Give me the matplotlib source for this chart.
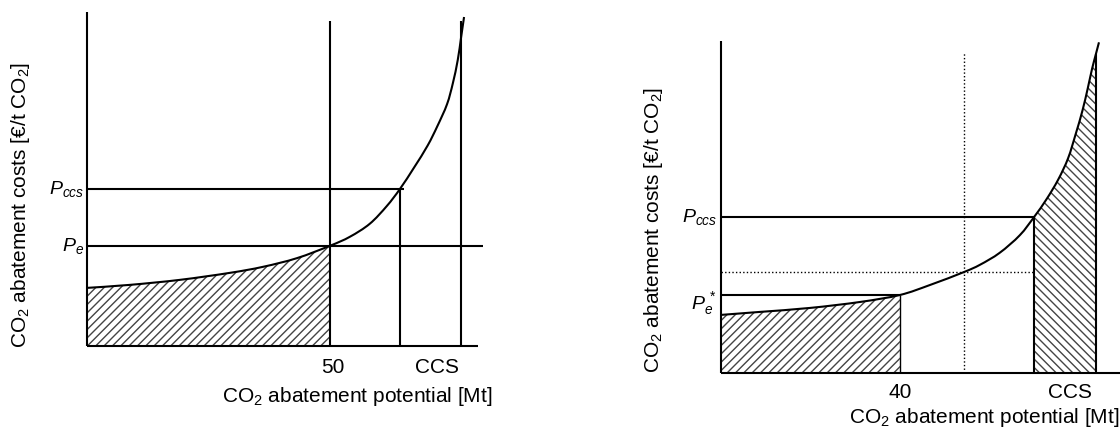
import matplotlib
matplotlib.use("Agg")
import matplotlib.pyplot as plt
from matplotlib.path import Path
from matplotlib.patches import PathPatch

# ----- data -----
left_x = [0, 8.8, 19.1, 29.4, 36.2, 43.2, 50, 54.1, 58.2, 61.7, 64.4, 67.3,
          70.1, 72.1, 74.1, 75.3, 76.3, 77.0, 77.6]
left_y = [17.4, 18.3, 19.8, 21.9, 23.7, 26.3, 30.0, 32.7, 36.6, 41.9, 47.0,
          53.4, 60.0, 65.8, 72.4, 78.7, 85.6, 92.5, 98.5]
left_q = 50        # equilibrium quantity
left_q_ccs = 64.4  # quantity at P_ccs
left_ccs = 77.0    # CCS potential
left_pe = 30.0
left_pccs = 47.0

right_x = [0, 8.7, 19.9, 31.1, 40.0, 46.7, 54.3, 57.9, 62.3, 66.8, 70.0,
           72.8, 75.4, 77.6, 79.3, 80.8, 82.0, 82.95, 83.8, 84.5]
right_y = [17.5, 18.4, 19.6, 21.4, 23.5, 26.5, 30.4, 32.6, 36.2, 41.5, 47.0,
           52.4, 58.3, 64.7, 72.0, 79.0, 85.8, 91.6, 96.0, 99.6]
right_q = 40
right_q_dot = 54.3
right_q_ccs = 70.0
right_ccs = 83.8
right_pe = 23.5
right_p_dot = 30.4
right_pccs = 47.0

plt.rcParams.update({
    "font.family": ["Liberation Sans", "DejaVu Sans"],
    "mathtext.fontset": "custom",
    "mathtext.rm": "Liberation Sans",
    "mathtext.it": "Liberation Sans:italic",
    "hatch.linewidth": 1.0,
})

FS = 15
LW = 1.5
HATCH_C = "#444444"
dotted = (0, (1, 1.6))

fig = plt.figure(figsize=(11.2, 4.33), dpi=100)
axL = fig.add_axes([87/1120, 87/433, 396/1120, 334/433])
axR = fig.add_axes([721/1120, 60/433, 399/1120, 332/433])
axL.set_xlim(0, 81.5)
axR.set_xlim(0, 89.2)
for ax in (axL, axR):
    ax.set_ylim(0, 100)
    ax.axis("off")


def line(ax, xs, ys, **kw):
    kw.setdefault("color", "black")
    kw.setdefault("lw", LW)
    ax.plot(xs, ys, clip_on=False, solid_capstyle="butt", **kw)


def bez(xs, ys, i0, i1):
    # smooth (catmull-rom) bezier pieces through the read points i0..i1
    n = len(xs)
    P = list(zip(xs, ys))
    verts = []
    for i in range(i0, i1):
        p0 = P[max(i - 1, 0)]
        p1, p2 = P[i], P[i + 1]
        p3 = P[min(i + 2, n - 1)]
        c1 = (p1[0] + (p2[0] - p0[0]) / 6, p1[1] + (p2[1] - p0[1]) / 6)
        c2 = (p2[0] - (p3[0] - p1[0]) / 6, p2[1] - (p3[1] - p1[1]) / 6)
        verts += [c1, c2, p2]
    return verts


def curve(ax, xs, ys):
    v = [(xs[0], ys[0])] + bez(xs, ys, 0, len(xs) - 1)
    codes = [Path.MOVETO] + [Path.CURVE4] * (len(v) - 1)
    ax.add_patch(PathPatch(Path(v, codes), fill=False, ec="black", lw=LW,
                           clip_on=False))


def hatched(ax, xs, ys, xa, xb, pattern):
    i0, i1 = xs.index(xa), xs.index(xb)
    v = [(xs[i0], ys[i0])] + bez(xs, ys, i0, i1)
    codes = [Path.MOVETO] + [Path.CURVE4] * (len(v) - 1)
    v += [(xs[i1], 0), (xs[i0], 0), (xs[i0], ys[i0])]
    codes += [Path.LINETO, Path.LINETO, Path.CLOSEPOLY]
    ax.add_patch(PathPatch(Path(v, codes), fc="white", ec=HATCH_C, lw=0,
                           hatch=pattern))


# ----- left panel -----
hatched(axL, left_x, left_y, 0, left_q, "////")
line(axL, [0, 0], [0, 100])
line(axL, [0, 80.5], [0, 0])
curve(axL, left_x, left_y)
line(axL, [left_q, left_q], [0, 97.3])
line(axL, [0, left_q_ccs + 0.8], [left_pccs, left_pccs])
line(axL, [left_q_ccs, left_q_ccs], [0, left_pccs])
line(axL, [0, 81.5], [left_pe, left_pe])
line(axL, [left_ccs, left_ccs], [0, 97.3])

axL.text(-0.6, left_pccs, r"$P_{ccs}$", ha="right", va="center", fontsize=14)
axL.text(-0.6, left_pe, r"$P_e$", ha="right", va="center", fontsize=14)
axL.text(left_q + 0.6, -6.3, "50", ha="center", va="center", fontsize=FS)
axL.text(72, -6.3, "CCS", ha="center", va="center", fontsize=FS)
axL.text(55.6, -15, r"CO$_2$ abatement potential [Mt]", ha="center",
         va="center", fontsize=FS)
axL.text(-13.6, 42.2, r"CO$_2$ abatement costs [€/t CO$_2$]", ha="center",
         va="center", rotation=90, fontsize=FS)

# ----- right panel -----
hatched(axR, right_x, right_y, 0, right_q, "////")
hatched(axR, right_x, right_y, right_q_ccs, right_ccs, "\\\\\\\\")
line(axR, [0, 0], [0, 100])
line(axR, [0, 89.2], [0, 0])
curve(axR, right_x, right_y)
line(axR, [right_q_dot, right_q_dot], [0, 96.7], lw=1.0, linestyle=dotted)
line(axR, [0, right_q_ccs], [right_p_dot, right_p_dot], lw=1.0, linestyle=dotted)
line(axR, [0, right_q_ccs], [right_pccs, right_pccs])
line(axR, [0, right_q], [right_pe, right_pe])
line(axR, [right_q, right_q], [0, right_pe], lw=1.0)
line(axR, [right_q_ccs, right_q_ccs], [0, right_pccs])
line(axR, [right_ccs, right_ccs], [0, 96.0])

axR.text(-0.9, right_pccs, r"$P_{ccs}$", ha="right", va="center", fontsize=14)
axR.text(-0.9, 21, r"$P_e^{\,*}$", ha="right", va="center", fontsize=14)
axR.text(right_q, -6.0, "40", ha="center", va="center", fontsize=FS)
axR.text(78, -6.0, "CCS", ha="center", va="center", fontsize=FS)
axR.text(89.0, -13.3, r"CO$_2$ abatement potential [Mt]", ha="right",
         va="center", fontsize=FS)
axR.text(-15, 43, r"CO$_2$ abatement costs [€/t CO$_2$]", ha="center",
         va="center", rotation=90, fontsize=FS)

fig.savefig("out.png", dpi=100)
